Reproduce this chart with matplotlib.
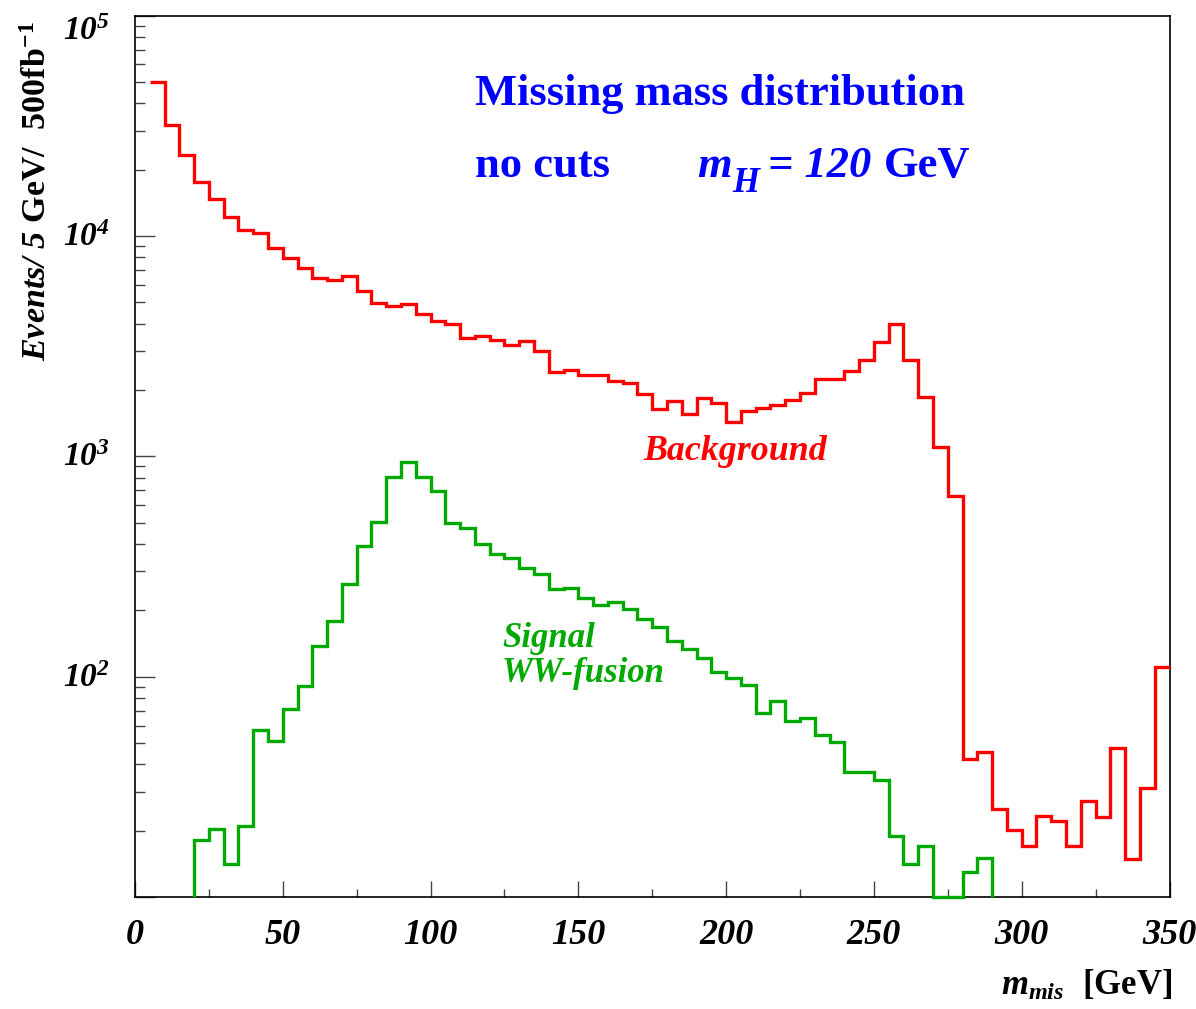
import numpy as np
import matplotlib
matplotlib.use("Agg")
import matplotlib.pyplot as plt
from matplotlib.ticker import LogLocator, NullFormatter, FixedLocator
from matplotlib.transforms import ScaledTranslation

plt.rcParams['font.family'] = 'Liberation Serif'
plt.rcParams['mathtext.fontset'] = 'custom'
plt.rcParams['mathtext.rm'] = 'Liberation Serif:bold:italic'
plt.rcParams['mathtext.it'] = 'Liberation Serif:bold:italic'
plt.rcParams['mathtext.bf'] = 'Liberation Serif:bold'

# 5 GeV bins from 0 to 350 GeV
bin_edges = list(range(0, 355, 5))

# Background events per bin
background = [
    0, 50000, 31700, 23400, 17500, 14700, 12200, 10600, 10300, 8850,
    7900, 7150, 6450, 6300, 6550, 5600, 4950, 4800, 4900, 4400,
    4100, 4000, 3450, 3500, 3380, 3210, 3330, 2990, 2400, 2470,
    2340, 2330, 2200, 2140, 1910, 1640, 1780, 1550, 1830, 1750,
    1430, 1600, 1650, 1710, 1800, 1930, 2240, 2240, 2430, 2730,
    3310, 3990, 2745, 1850, 1100, 658, 42.3, 45.3, 25.1, 20.2,
    17.0, 23.2, 22.1, 17.0, 27.2, 23.0, 47.6, 14.9, 31.1, 111,
]

# Signal (WW-fusion) events per bin
signal = [
    0, 0, 0, 0, 18.2, 20.3, 14.1, 21.1, 57.4, 51.2,
    71.6, 90.4, 137, 178, 264, 391, 505, 806, 946, 806,
    692, 500, 471, 401, 361, 344, 310, 291, 249, 253,
    228, 212, 218, 202, 182, 168, 145, 134, 122, 105,
    98.3, 91.3, 68.4, 77.8, 63.1, 64.7, 54.3, 50.3, 37.1, 37.1,
    34.0, 19.0, 14.1, 17.1, 0, 0, 13.0, 15.1, 0, 0,
    0, 0, 0, 0, 0, 0, 0, 0, 0, 0,
]

x_major_ticks = [0, 50, 100, 150, 200, 250, 300, 350]
x_minor_ticks = [25, 75, 125, 175, 225, 275, 325]
y_decades = [2, 3, 4, 5]

W, H = 1196, 1009
YMIN, YMAX = 10, 1e5
RED = '#ff0000'
GREEN = '#00aa00'
BLUE = '#0000ff'

fig = plt.figure(figsize=(W / 100, H / 100), dpi=100)
ax = fig.add_axes([135 / W, 1 - 897 / H, (1169.5 - 135) / W, (897 - 15.5) / H])


def fx(x):
    return x / W


def fy(y):
    return 1 - y / H


edges = np.array(bin_edges, dtype=float)
bkg = np.array(background, dtype=float)
sig = np.array(signal, dtype=float)

# Background: outline only over the filled range, no end drops
nz = np.nonzero(bkg)[0]
b0, b1 = nz[0], nz[-1] + 1
ax.stairs(bkg[b0:b1], edges[b0:b1 + 1], baseline=None, color=RED,
          linewidth=2.4, zorder=3)

# Signal: empty bins inside the range sit on the lower frame edge
nz = np.nonzero(sig)[0]
s0, s1 = nz[0], nz[-1] + 1
ax.stairs(np.clip(sig[s0:s1], YMIN, None), edges[s0:s1 + 1], baseline=YMIN,
          color=GREEN, linewidth=2.4, zorder=3, clip_on=False)

ax.set_yscale('log')
ax.set_xlim(0, 350)
ax.set_ylim(YMIN, YMAX)

ax.xaxis.set_major_locator(FixedLocator(x_major_ticks))
ax.xaxis.set_minor_locator(FixedLocator(x_minor_ticks))
ax.yaxis.set_major_locator(LogLocator(base=10))
ax.yaxis.set_minor_locator(LogLocator(base=10, subs=np.arange(2, 10)))
ax.yaxis.set_minor_formatter(NullFormatter())

ax.tick_params(which='both', direction='in', top=False, right=False,
               color='#444444', width=1.0)
ax.tick_params(axis='y', which='major', length=14.4, labelleft=False)
ax.tick_params(axis='y', which='minor', length=7.2)
ax.tick_params(axis='x', which='major', length=11.5, pad=16)
ax.tick_params(axis='x', which='minor', length=6)

ax.set_xticklabels([str(t) for t in x_major_ticks])
for lab in ax.get_xticklabels():
    lab.set_fontsize(26)
    lab.set_fontweight('bold')
    lab.set_fontstyle('italic')

for s in ax.spines.values():
    s.set_linewidth(1.2)
    s.set_color('black')

# Decade labels on the y axis
ytrans = ax.get_yaxis_transform()
for d in y_decades:
    drop = 24 if d == 5 else 10
    off = ScaledTranslation(0, -drop / 100, fig.dpi_scale_trans)
    ax.text(-25 / 1034.5, 10 ** d, r'$10^{%d}$' % d, transform=ytrans + off,
            ha='right', va='baseline', fontsize=24)

# Axis titles
fig.text(fx(37), fy(21), r'$Events/\ 5\ \mathbf{GeV/\ \ 500fb}^{\mathbf{-1}}$',
         rotation=90, ha='center', va='top', fontsize=24.5)
fig.text(fx(1172), fy(995), r'$m_{mis}\ \ \mathbf{[GeV]}$',
         ha='right', va='baseline', fontsize=25)

# Annotations
fig.text(fx(475), fy(105), 'Missing mass distribution', color=BLUE,
         fontsize=32, fontweight='bold', ha='left', va='baseline')
fig.text(fx(475), fy(176.7), 'no cuts', color=BLUE,
         fontsize=32, fontweight='bold', ha='left', va='baseline')
fig.text(fx(697), fy(176.7), 'm', color=BLUE, fontsize=32,
         fontweight='bold', fontstyle='italic', ha='left', va='baseline')
fig.text(fx(732), fy(192), 'H', color=BLUE, fontsize=25,
         fontweight='bold', fontstyle='italic', ha='left', va='baseline')
fig.text(fx(768), fy(176.7), '= 120', color=BLUE, fontsize=32,
         fontweight='bold', fontstyle='italic', ha='left', va='baseline')
fig.text(fx(970), fy(176.7), 'GeV', color=BLUE, fontsize=32,
         fontweight='bold', ha='right', va='baseline')
fig.text(fx(643), fy(460), 'Background', color=RED, fontsize=25.8,
         fontweight='bold', fontstyle='italic', ha='left', va='baseline')
fig.text(fx(502), fy(646.7), 'Signal', color=GREEN, fontsize=25,
         fontweight='bold', fontstyle='italic', ha='left', va='baseline')
fig.text(fx(502), fy(681.7), 'WW-fusion', color=GREEN, fontsize=25,
         fontweight='bold', fontstyle='italic', ha='left', va='baseline')

fig.savefig('out.png', dpi=100, facecolor='white')
